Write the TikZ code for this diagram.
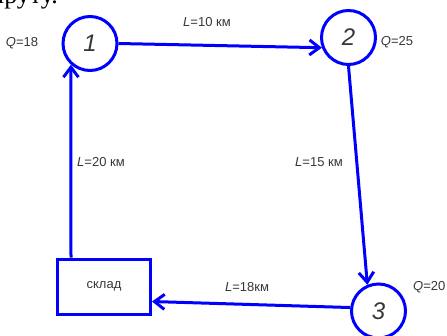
\documentclass[tikz,border=0pt]{standalone}
\usepackage{fontspec}
\setmainfont{Liberation Sans}
\newfontfamily\serifru{Liberation Serif}
\usetikzlibrary{arrows.meta}
\definecolor{lineblue}{RGB}{0,0,255}
\definecolor{txtgray}{RGB}{55,55,55}
\tikzset{
 stop/.style={circle,draw=lineblue,line width=3pt,minimum size=54pt,inner sep=0pt,
   font=\fontsize{24}{24}\selectfont\itshape,text=txtgray},
 depot/.style={rectangle,draw=lineblue,line width=3pt,minimum width=93pt,minimum height=55pt,
   inner sep=0pt,font=\fontsize{13}{13}\selectfont,text=txtgray},
 route/.style={draw=lineblue,line width=3pt,-{Straight Barb[length=10pt,width=15pt]}},
 lbl/.style={font=\fontsize{13}{13}\selectfont,text=txtgray,inner sep=0pt},
}
\begin{document}
\begin{tikzpicture}[x=1pt,y=-1pt]
\useasboundingbox (0,0) rectangle (447,335);
\clip (0,0) rectangle (447,335);
\node[anchor=base east,font=\serifru\fontsize{26}{26}\selectfont,inner sep=0pt] (head) at (58,3) {маршруту.};
\node[stop] (c1) at (90,43.5) {1};
\node[stop] (c2) at (348.5,37.5) {2};
\node[stop] (c3) at (378.5,311) {3};
\node[depot] (sk) at (104,286.5) {склад};
\draw[route] (c1.east) -- (c2.201);
\draw[route] (c2.south) -- (c3.113);
\draw[route] (c3.173) -- ([yshift=-15pt]sk.east);
\draw[route] ([xshift=15pt]sk.north west) -- (c1.228);
\node[lbl] (q1) at (22,43) {\textit{Q}=18};
\node[lbl] (q2) at (397,42) {\textit{Q}=25};
\node[lbl,anchor=west] (q3) at (413,287) {\textit{Q}=20};
\node[lbl] (l12) at (207,22) {\textit{L}=10 км};
\node[lbl] (l41) at (101,162) {\textit{L}=20 км};
\node[lbl] (l23) at (319,162) {\textit{L}=15 км};
\node[lbl] (l34) at (247,287) {\textit{L}=18км};
\end{tikzpicture}
\end{document}
